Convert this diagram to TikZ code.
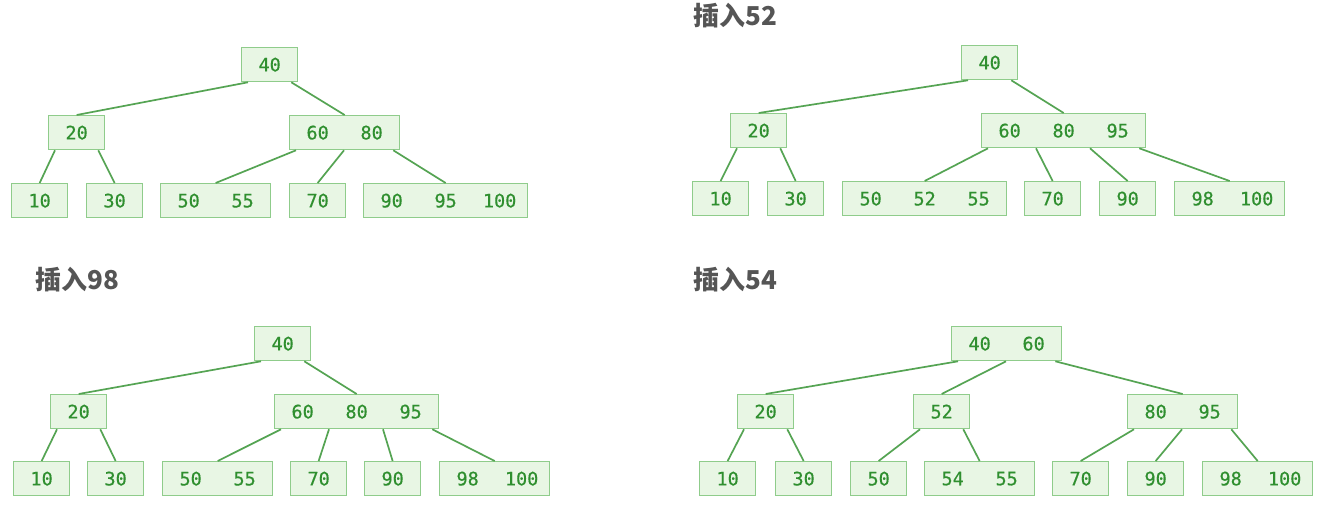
\documentclass[tikz,border=0pt]{standalone}
\usepackage{fontspec}
\newfontfamily\keyfont{DejaVu Sans Mono}[FakeBold=0.5]
\newfontfamily\cjk{Noto Sans CJK SC}
\definecolor{boxfill}{HTML}{E8F6E4}
\definecolor{boxborder}{HTML}{8FCC8B}
\definecolor{keytext}{HTML}{2F8F2F}
\definecolor{linkcol}{HTML}{55A453}
\definecolor{titlegray}{HTML}{555555}
\newcommand\K[1]{\makebox[54pt]{#1}}
\newcommand\Lp[1]{([xshift=7pt]#1.south west)}
\newcommand\Rp[1]{([xshift=-7pt]#1.south east)}
\newcommand\Mp[2]{([xshift=#2pt]#1.south west)}
\tikzset{
  bnode/.style={draw=boxborder, fill=boxfill, line width=1.3pt, inner xsep=1pt, inner ysep=0pt,
    minimum height=34pt, anchor=north west, font=\keyfont\fontsize{18.5}{20}\selectfont, text=keytext},
  link/.style={draw=linkcol, line width=1.7pt},
  titletext/.style={anchor=base west, inner sep=0pt, text=titlegray, font=\cjk\bfseries\fontsize{26}{29}\selectfont}
}
\begin{document}
\begin{tikzpicture}[x=1pt,y=-1pt]
\useasboundingbox (0,0) rectangle (1319,513);
\fill[white] (0,0) rectangle (1319,513);

% titles
\node[titletext] (t2) at (693,25.5) {插入52};
\node[titletext] (t3) at (35,289.5) {插入98};
\node[titletext] (t4) at (693,289.5) {插入54};

% panel 1
\node[bnode] (a1) at (241,47) {\K{40}};
\node[bnode] (a2) at (48,115) {\K{20}};
\node[bnode] (a3) at (289,115) {\K{60}\K{80}};
\node[bnode] (a4) at (11,183) {\K{10}};
\node[bnode] (a5) at (86,183) {\K{30}};
\node[bnode] (a6) at (160,183) {\K{50}\K{55}};
\node[bnode] (a7) at (289,183) {\K{70}};
\node[bnode] (a8) at (363,183) {\K{90}\K{95}\K{100}};
\draw[link] \Lp{a1} -- (a2.north);
\draw[link] \Rp{a1} -- (a3.north);
\draw[link] \Lp{a2} -- (a4.north);
\draw[link] \Rp{a2} -- (a5.north);
\draw[link] \Lp{a3} -- (a6.north);
\draw[link] \Mp{a3}{55} -- (a7.north);
\draw[link] \Rp{a3} -- (a8.north);

% panel 2
\node[bnode] (b1) at (961,45) {\K{40}};
\node[bnode] (b2) at (730,113) {\K{20}};
\node[bnode] (b3) at (981,113) {\K{60}\K{80}\K{95}};
\node[bnode] (b4) at (692,181) {\K{10}};
\node[bnode] (b5) at (767,181) {\K{30}};
\node[bnode] (b6) at (842,181) {\K{50}\K{52}\K{55}};
\node[bnode] (b7) at (1024,181) {\K{70}};
\node[bnode] (b8) at (1099,181) {\K{90}};
\node[bnode] (b9) at (1174,181) {\K{98}\K{100}};
\draw[link] \Lp{b1} -- (b2.north);
\draw[link] \Rp{b1} -- (b3.north);
\draw[link] \Lp{b2} -- (b4.north);
\draw[link] \Rp{b2} -- (b5.north);
\draw[link] \Lp{b3} -- (b6.north);
\draw[link] \Mp{b3}{55} -- (b7.north);
\draw[link] \Mp{b3}{109} -- (b8.north);
\draw[link] \Rp{b3} -- (b9.north);

% panel 3
\node[bnode] (c1) at (254,326) {\K{40}};
\node[bnode] (c2) at (50,394) {\K{20}};
\node[bnode] (c3) at (274,394) {\K{60}\K{80}\K{95}};
\node[bnode] (c4) at (13,461) {\K{10}};
\node[bnode] (c5) at (87,461) {\K{30}};
\node[bnode] (c6) at (162,461) {\K{50}\K{55}};
\node[bnode] (c7) at (290,461) {\K{70}};
\node[bnode] (c8) at (364,461) {\K{90}};
\node[bnode] (c9) at (439,461) {\K{98}\K{100}};
\draw[link] \Lp{c1} -- (c2.north);
\draw[link] \Rp{c1} -- (c3.north);
\draw[link] \Lp{c2} -- (c4.north);
\draw[link] \Rp{c2} -- (c5.north);
\draw[link] \Lp{c3} -- (c6.north);
\draw[link] \Mp{c3}{55} -- (c7.north);
\draw[link] \Mp{c3}{109} -- (c8.north);
\draw[link] \Rp{c3} -- (c9.north);

% panel 4
\node[bnode] (d1) at (951,326) {\K{40}\K{60}};
\node[bnode] (d2) at (737,394) {\K{20}};
\node[bnode] (d3) at (913,394) {\K{52}};
\node[bnode] (d4) at (1127,394) {\K{80}\K{95}};
\node[bnode] (d5) at (699,461) {\K{10}};
\node[bnode] (d6) at (775,461) {\K{30}};
\node[bnode] (d7) at (850,461) {\K{50}};
\node[bnode] (d8) at (924,461) {\K{54}\K{55}};
\node[bnode] (d9) at (1052,461) {\K{70}};
\node[bnode] (d10) at (1127,461) {\K{90}};
\node[bnode] (d11) at (1202,461) {\K{98}\K{100}};
\draw[link] \Lp{d1} -- (d2.north);
\draw[link] \Mp{d1}{55} -- (d3.north);
\draw[link] \Rp{d1} -- (d4.north);
\draw[link] \Lp{d2} -- (d5.north);
\draw[link] \Rp{d2} -- (d6.north);
\draw[link] \Lp{d3} -- (d7.north);
\draw[link] \Rp{d3} -- (d8.north);
\draw[link] \Lp{d4} -- (d9.north);
\draw[link] \Mp{d4}{55} -- (d10.north);
\draw[link] \Rp{d4} -- (d11.north);
\end{tikzpicture}
\end{document}
